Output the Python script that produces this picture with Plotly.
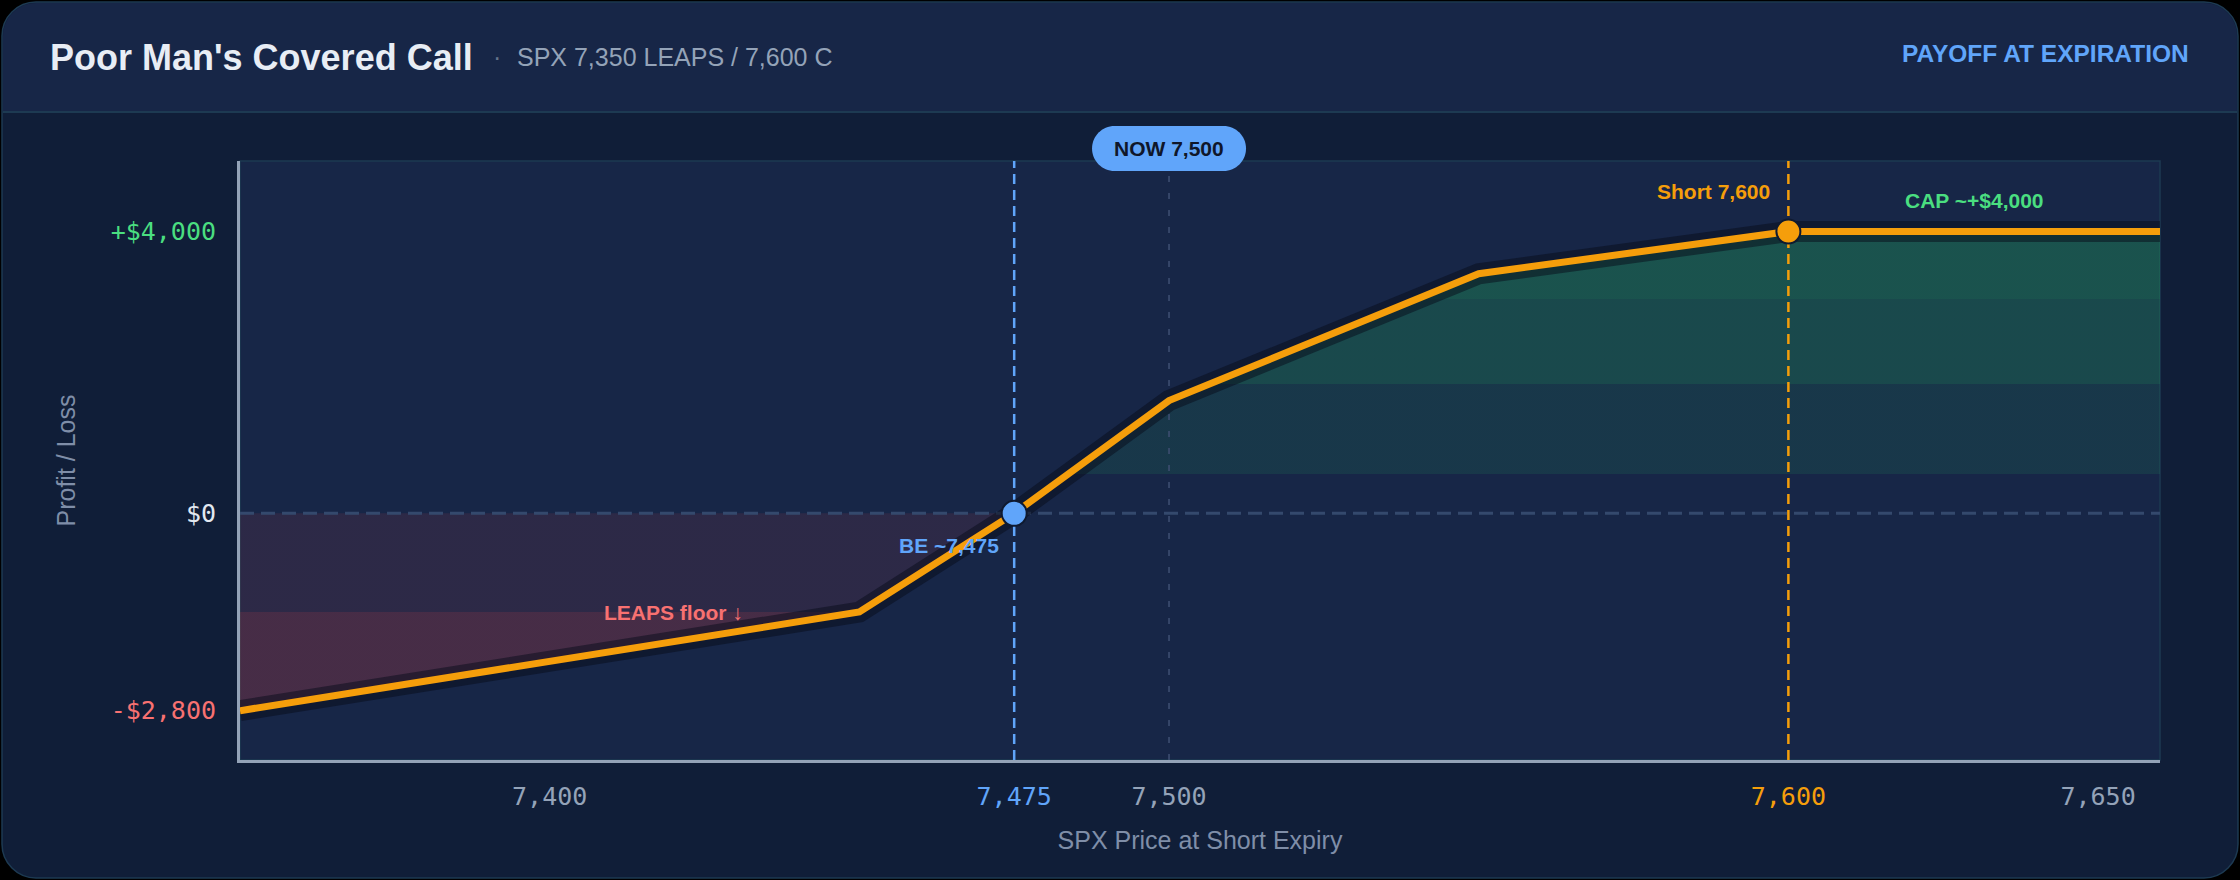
import plotly.graph_objects as go

# payoff at short expiry
spx = [7350, 7450, 7475, 7500, 7550, 7600, 7660]
pnl = [-2800, -1400, 0, 1600, 3400, 4000, 4000]

breakeven = 7475
now_price = 7500
short_strike = 7600
cap = 4000
floor_pnl = -2800

x_range = [7350, 7660]
y_range = [-3500, 5000]

x_ticks = [7400, 7475, 7500, 7600, 7650]
x_labels = ["7,400", "7,475", "7,500", "7,600", "7,650"]
y_ticks = [-2800, 0, 4000]
y_labels = ["-$2,800", "$0", "+$4,000"]

# colours
ORANGE = "#f59e0b"
BLUE = "#60a5fa"
GREEN = "#4ade80"
RED = "#f87171"
SLATE = "#94a3b8"
CARD = "#101e38"
PANEL = "#172647"
EDGE = "#1d3a52"

x_tick_colors = {7475: BLUE, 7600: ORANGE}
y_tick_colors = {-2800: RED, 0: "#e2e8f0", 4000: GREEN}

W, H = 2240, 880
L, R, T, B = 240, 2160, 161, 760  # plot area in pixels


def px(x):
    return (x - L) / (R - L)


def py(y):
    return (B - y) / (B - T)


def rounded(x0, y0, x1, y1, rt, rb, fx, fy):
    k = 0.5523
    P = lambda x, y: f"{fx(x):.5f},{fy(y):.5f}"
    d = f"M {P(x0 + rt, y0)} L {P(x1 - rt, y0)} "
    d += f"C {P(x1 - rt + k * rt, y0)} {P(x1, y0 + rt - k * rt)} {P(x1, y0 + rt)} "
    d += f"L {P(x1, y1 - rb)} "
    d += f"C {P(x1, y1 - rb + k * rb)} {P(x1 - rb + k * rb, y1)} {P(x1 - rb, y1)} "
    d += f"L {P(x0 + rb, y1)} "
    d += f"C {P(x0 + rb - k * rb, y1)} {P(x0, y1 - rb + k * rb)} {P(x0, y1 - rb)} "
    d += f"L {P(x0, y0 + rt)} "
    d += f"C {P(x0, y0 + rt - k * rt)} {P(x0 + rt - k * rt, y0)} {P(x0 + rt, y0)} Z"
    return d


neg = [i for i, v in enumerate(pnl) if v <= 0]
pos = [i for i, v in enumerate(pnl) if v >= 0]

fig = go.Figure()

# loss / profit areas
fig.add_trace(go.Scatter(
    x=[spx[i] for i in neg], y=[pnl[i] for i in neg], mode="lines",
    line=dict(width=0), fill="tozeroy",
    fillgradient=dict(type="vertical", start=0, stop=floor_pnl, colorscale=[
        [0, "rgba(239,68,68,0.10)"], [0.5, "rgba(239,68,68,0.10)"],
        [0.5, "rgba(239,68,68,0.22)"], [1, "rgba(239,68,68,0.22)"]]),
    hoverinfo="skip"))
fig.add_trace(go.Scatter(
    x=[spx[i] for i in pos], y=[pnl[i] for i in pos], mode="lines",
    line=dict(width=0), fill="tozeroy",
    fillgradient=dict(type="vertical", start=0, stop=cap, colorscale=[
        [0, "rgba(34,197,94,0)"], [0.14, "rgba(34,197,94,0)"],
        [0.14, "rgba(34,197,94,0.11)"], [0.46, "rgba(34,197,94,0.11)"],
        [0.46, "rgba(34,197,94,0.22)"], [0.76, "rgba(34,197,94,0.22)"],
        [0.76, "rgba(34,197,94,0.28)"], [1, "rgba(34,197,94,0.28)"]]),
    hoverinfo="skip"))

# reference lines
fig.add_trace(go.Scatter(x=x_range, y=[0, 0], mode="lines",
                         line=dict(color="#34496d", width=3, dash="14px,7px"), hoverinfo="skip"))
fig.add_trace(go.Scatter(x=[now_price, now_price], y=y_range, mode="lines",
                         line=dict(color="#3d4e70", width=1.6, dash="6px,11px"), hoverinfo="skip"))
fig.add_trace(go.Scatter(x=[breakeven, breakeven], y=y_range, mode="lines",
                         line=dict(color=BLUE, width=2.5, dash="10px,6px"), hoverinfo="skip"))
fig.add_trace(go.Scatter(x=[short_strike, short_strike], y=y_range, mode="lines",
                         line=dict(color=ORANGE, width=2.5, dash="10px,6px"), hoverinfo="skip"))

# payoff line with a soft shadow
fig.add_trace(go.Scatter(x=spx, y=pnl, mode="lines",
                         line=dict(color="rgba(8,12,26,0.5)", width=21), hoverinfo="skip"))
fig.add_trace(go.Scatter(x=spx, y=pnl, mode="lines",
                         line=dict(color=ORANGE, width=7), hoverinfo="skip"))

# key points
fig.add_trace(go.Scatter(x=[breakeven], y=[0], mode="markers",
                         marker=dict(size=25, color=BLUE, line=dict(color="#0f1a30", width=2)),
                         hoverinfo="skip"))
fig.add_trace(go.Scatter(x=[short_strike], y=[cap], mode="markers",
                         marker=dict(size=24, color=ORANGE, line=dict(color="#0f1a30", width=2)),
                         hoverinfo="skip"))

shapes = [
    # card, header, divider, plot panel
    dict(type="path", xref="paper", yref="paper", layer="below",
         path=rounded(2, 2, W - 2, H - 2, 34, 34, px, py),
         fillcolor=CARD, line=dict(color=EDGE, width=1.5)),
    dict(type="path", xref="paper", yref="paper", layer="below",
         path=rounded(3, 3, W - 3, 112, 33, 0, px, py),
         fillcolor=PANEL, line=dict(width=0)),
    dict(type="line", xref="paper", yref="paper", layer="below",
         x0=px(3), x1=px(W - 3), y0=py(112), y1=py(112),
         line=dict(color=EDGE, width=2)),
    dict(type="rect", xref="paper", yref="paper", layer="below",
         x0=0, x1=1, y0=0, y1=1, fillcolor=PANEL, line=dict(color=EDGE, width=1.5)),
    # NOW pill
    dict(type="path", xref="x", yref="paper", xsizemode="pixel", ysizemode="pixel",
         xanchor=now_price, yanchor=1, layer="above",
         path=rounded(-77, -35, 77, 10, 22.5, 22.5, lambda v: v, lambda v: -v),
         fillcolor=BLUE, line=dict(width=0)),
]

bold = dict(family="Liberation Sans", weight="bold")
annotations = [
    dict(xref="paper", yref="paper", x=px(48), y=py(57), xanchor="left", yanchor="middle",
         text="Poor Man's Covered Call", showarrow=False,
         font=dict(bold, size=36, color="#e8edf5")),
    dict(xref="paper", yref="paper", x=px(491), y=py(57), xanchor="left", yanchor="middle",
         text="·", showarrow=False, font=dict(family="Liberation Sans", size=25, color="#64748b")),
    dict(xref="paper", yref="paper", x=px(515), y=py(57), xanchor="left", yanchor="middle",
         text="SPX 7,350 LEAPS / 7,600 C", showarrow=False,
         font=dict(family="Liberation Sans", size=25, color=SLATE)),
    dict(xref="paper", yref="paper", x=px(2191), y=py(53), xanchor="right", yanchor="middle",
         text="PAYOFF AT EXPIRATION", showarrow=False, font=dict(bold, size=24.5, color=BLUE)),
    dict(xref="x", yref="paper", x=now_price, y=1, yshift=12.5, xanchor="center", yanchor="middle",
         text="NOW 7,500", showarrow=False, font=dict(bold, size=21, color="#0f172a")),
    dict(xref="x", yref="y", x=short_strike, y=cap, xshift=-16, yshift=40,
         xanchor="right", yanchor="middle", text="Short 7,600", showarrow=False,
         font=dict(bold, size=21, color=ORANGE)),
    dict(xref="x", yref="y", x=(short_strike + x_range[1]) / 2, y=cap, yshift=31,
         xanchor="center", yanchor="middle", text="CAP ~+$4,000", showarrow=False,
         font=dict(bold, size=21, color=GREEN)),
    dict(xref="x", yref="y", x=breakeven, y=0, xshift=-13, yshift=-32,
         xanchor="right", yanchor="middle", text="BE ~7,475", showarrow=False,
         font=dict(bold, size=21, color=BLUE)),
    dict(xref="x", yref="y", x=7420, y=-1400, xanchor="center", yanchor="middle",
         text="LEAPS floor ↓", showarrow=False, font=dict(bold, size=21, color=RED)),
]


def colored(vals, labels, colors, default):
    return [f"<span style='color:{colors.get(v, default)}'>{t}</span>" for v, t in zip(vals, labels)]


fig.update_layout(
    width=W, height=H,
    margin=dict(l=L, r=W - R, t=T, b=H - B, pad=0),
    paper_bgcolor="#000000", plot_bgcolor="rgba(0,0,0,0)",
    showlegend=False, hovermode=False,
    shapes=shapes, annotations=annotations,
    xaxis=dict(range=x_range, tickvals=x_ticks,
               ticktext=colored(x_ticks, x_labels, x_tick_colors, SLATE),
               tickfont=dict(family="DejaVu Sans Mono", size=25, color=SLATE),
               ticks="outside", ticklen=12, tickcolor="rgba(0,0,0,0)",
               showgrid=False, zeroline=False, showline=True, linecolor=SLATE, linewidth=3,
               title=dict(text="SPX Price at Short Expiry", standoff=22,
                          font=dict(family="Liberation Sans", size=25, color="#7f8ea8")),
               fixedrange=True),
    yaxis=dict(range=y_range, tickvals=y_ticks,
               ticktext=colored(y_ticks, y_labels, y_tick_colors, SLATE),
               tickfont=dict(family="DejaVu Sans Mono", size=25, color=SLATE),
               ticks="outside", ticklen=16, tickcolor="rgba(0,0,0,0)",
               showgrid=False, zeroline=False, showline=True, linecolor=SLATE, linewidth=3,
               title=dict(text="Profit / Loss", standoff=28,
                          font=dict(family="Liberation Sans", size=25, color="#7f8ea8")),
               fixedrange=True),
)

fig.write_html("out.html", config={"displayModeBar": False},
               post_script="document.body.style.margin='0';")
